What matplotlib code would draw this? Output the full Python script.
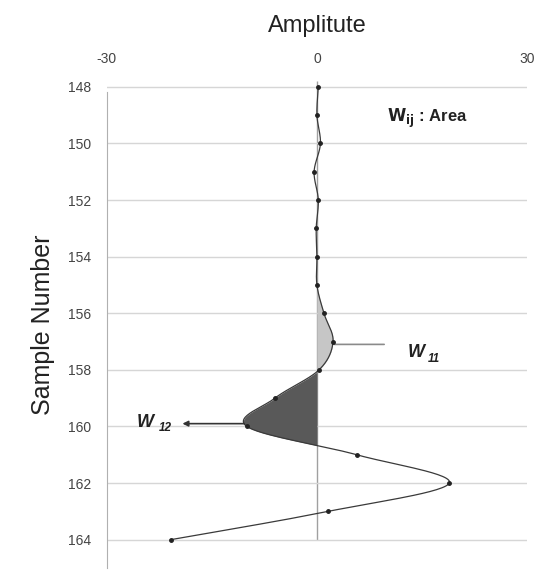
import numpy as np
import matplotlib.pyplot as plt

plt.rcParams['font.family'] = ['Liberation Sans', 'DejaVu Sans']
plt.rcParams['axes.unicode_minus'] = False

# values
samples = np.arange(148, 165)
amplitude = [0.2, 0.0, 0.5, -0.4, 0.2, -0.1, 0.0, 0.0, 1.0, 2.3, 0.3,
             -6.0, -10.0, 5.7, 18.9, 1.6, -20.9]
x_ticks = [-30, 0, 30]
y_ticks = list(range(148, 165, 2))
w11_span = (155, 158.3)
w12_span = (158, 161)


def smooth(s, v, sx=7.0, sy=28.3, n=30):
    # excel-like smoothed line: bezier segments with catmull-rom control points,
    # worked out in screen-like units so the bends look the same
    p = np.column_stack([np.asarray(v, float) * sx, np.asarray(s, float) * sy])
    ext = np.vstack([p[:1], p, p[-1:]])
    out = []
    t = np.linspace(0, 1, n, endpoint=False)[:, None]
    for i in range(len(p) - 1):
        p0, p1 = ext[i + 1], ext[i + 2]
        c1 = p0 + (ext[i + 2] - ext[i]) / 6
        c2 = p1 - (ext[i + 3] - ext[i + 1]) / 6
        out.append((1 - t) ** 3 * p0 + 3 * (1 - t) ** 2 * t * c1
                   + 3 * (1 - t) * t ** 2 * c2 + t ** 3 * p1)
    out.append(p[-1:])
    out = np.vstack(out)
    return out[:, 1] / sy, out[:, 0] / sx


fig = plt.figure(figsize=(5.45, 5.88), dpi=100)
ax = fig.add_axes([0.196, 0.034, 0.771, 0.828])

cs, cv = smooth(samples, amplitude)

ax.set_xlim(-30, 30)
ax.set_ylim(165, 147.8)

# grid + zero line
ax.set_yticks(y_ticks)
ax.set_xticks(x_ticks)
ax.grid(axis='y', color='#d6d6d6', lw=1)
ax.vlines(0, 147.8, samples[-1], color='#a0a0a0', lw=1, zorder=1)

# areas
m11 = (cs >= w11_span[0]) & (cs <= w11_span[1]) & (cv > 0)
ax.fill_betweenx(cs, 0, cv, where=m11, color='#c6c6c6', lw=0, zorder=2)
m12 = (cs >= w12_span[0]) & (cs <= w12_span[1]) & (cv < 0)
ax.fill_betweenx(cs, 0, cv, where=m12, color='#595959', lw=0, zorder=2)

ax.plot(cv, cs, color='#3a3a3a', lw=0.9, zorder=3)
ax.plot(amplitude, samples, 'o', color='#222222', ms=2.5, zorder=4)

# labels for the areas
i11 = list(samples).index(157)
ax.annotate('', xy=(10.0, 157.1), xytext=(amplitude[i11] - 0.2, 157.1),
            arrowprops=dict(arrowstyle='-', color='#8a8a8a', lw=1.2))
ax.text(12.9, 157.4, 'W', fontsize=13, fontweight='bold', fontstyle='italic',
        va='center', color='#222222')
ax.text(15.9, 157.6, '11', fontsize=8.5, fontweight='bold', fontstyle='italic',
        va='center', color='#222222')

i12 = list(samples).index(160)
ax.annotate('', xy=(-19.6, 159.9), xytext=(amplitude[i12], 159.9),
            arrowprops=dict(arrowstyle='-|>', color='#333333', lw=1.2,
                            mutation_scale=8))
ax.text(-25.7, 159.85, 'W', fontsize=13, fontweight='bold', fontstyle='italic',
        va='center', color='#222222')
ax.text(-22.6, 160.05, '12', fontsize=8.5, fontweight='bold', fontstyle='italic',
        va='center', color='#222222')

ax.text(10.0, 149.1, r'$\mathbf{W_{ij}}$ : Area', fontsize=12,
        fontweight='bold', va='center', color='#222222')

# axes styling
ax.xaxis.tick_top()
ax.xaxis.set_label_position('top')
ax.set_xlabel('Amplitute', fontsize=17, color='#222222', labelpad=14)
ax.set_ylabel('Sample Number', fontsize=18, color='#222222')
ax.yaxis.set_label_coords(-0.124, 0.5)
ax.tick_params(length=0, labelsize=10, labelcolor='#444444')
ax.tick_params(axis='x', pad=11)
ax.tick_params(axis='y', pad=11)
for side in ['top', 'right', 'bottom']:
    ax.spines[side].set_visible(False)
ax.spines['left'].set_color('#b0b0b0')
ax.spines['left'].set_bounds(148.2, 165)

plt.savefig('out.png', dpi=100)
